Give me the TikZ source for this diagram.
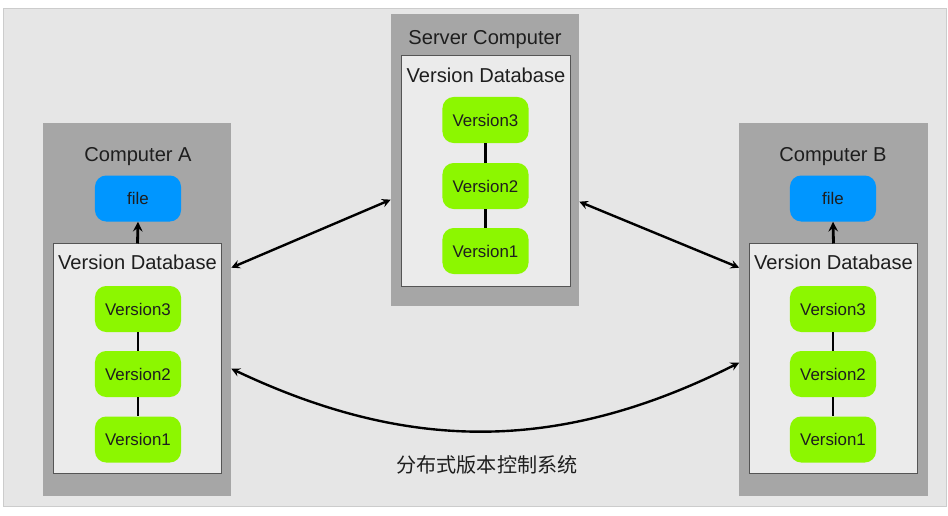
\documentclass[tikz,border=0pt]{standalone}
\usepackage{fontspec}
\setmainfont{Liberation Sans}
\newfontfamily\cjk{Noto Sans CJK SC}
\usetikzlibrary{calc}

\definecolor{panel}{HTML}{E6E6E6}
\definecolor{machinegray}{HTML}{A6A6A6}
\definecolor{dbfill}{HTML}{EBEBEB}
\definecolor{dbline}{HTML}{555555}
\definecolor{versiongreen}{HTML}{8CF700}
\definecolor{fileblue}{HTML}{0096FF}
\definecolor{ink}{HTML}{1E1E1E}

\tikzset{
    machine/.style = {
        rectangle,
        fill=machinegray,
        inner sep=0pt,
        minimum width=4.7cm
    },
    database/.style = {
        rectangle,
        draw=dbline,
        fill=dbfill,
        line width=0.7pt,
        inner sep=0pt,
        minimum width=4.22cm
    },
    version/.style = {
        rectangle,
        rounded corners=0.28cm,
        fill=versiongreen,
        text=ink,
        inner sep=0pt,
        minimum width=2.15cm,
        minimum height=1.15cm,
        font=\fontsize{12}{14}\selectfont
    },
    workfile/.style = {
        version,
        fill=fileblue
    },
    title/.style = {
        text=ink,
        inner sep=0pt,
        font=\fontsize{14.3}{17}\selectfont
    },
    link/.style = {
        line width=2pt,
        black
    },
    sync/.style = {
        stealth-stealth,
        line width=1.7pt,
        black
    }
}

\begin{document}
\begin{tikzpicture}[x=0.025cm, y=-0.025cm]
    \useasboundingbox (0,0) rectangle (948,515);

    % Background panel
    \fill[white] (0,0) rectangle (948,515);
    \draw[black!20, fill=panel] (3,8) rectangle (946,506);

    % Machines
    \node[machine, minimum height=9.325cm] (compA)  at (137,309.5) {};
    \node[machine, minimum height=7.3cm]   (server) at (485,160)   {};
    \node[machine, minimum height=9.325cm] (compB)  at (833.5,309.5) {};

    \node[title] (titleA)      at (138,157) {Computer A};
    \node[title] (titleServer) at (485,40)  {Server Computer};
    \node[title] (titleB)      at (833,157) {Computer B};

    % Version databases
    \node[database, minimum height=5.725cm] (dbA)      at (137.5,358.5) {};
    \node[database, minimum height=5.75cm, minimum width=4.2cm] (dbServer) at (486,171) {};
    \node[database, minimum height=5.725cm] (dbB)      at (833.5,358.5) {};

    \node[title] (labelA)      at (137.5,262) {Version Database};
    \node[title] (labelServer) at (486,75)    {Version Database};
    \node[title] (labelB)      at (833.5,262) {Version Database};

    % Working files
    \node[workfile] (fileA) at (138,198.5) {file};
    \node[workfile] (fileB) at (833,198.5) {file};

    \draw[-stealth, line width=2pt] (dbA.north) -- (fileA.south);
    \draw[-stealth, line width=2pt] (dbB.north) -- (fileB.south);

    % Versions
    \node[version] (vA3) at (138,309)   {Version3};
    \node[version] (vA2) at (138,374)   {Version2};
    \node[version] (vA1) at (138,439.5) {Version1};

    \node[version] (vS3) at (485.5,120) {Version3};
    \node[version] (vS2) at (485.5,186) {Version2};
    \node[version] (vS1) at (485.5,251) {Version1};

    \node[version] (vB3) at (833,309)   {Version3};
    \node[version] (vB2) at (833,374)   {Version2};
    \node[version] (vB1) at (833,439.5) {Version1};

    \draw[link] (vA3) -- (vA2) (vA2) -- (vA1);
    \draw[link] (vS3) -- (vS2) (vS2) -- (vS1);
    \draw[link] (vB3) -- (vB2) (vB2) -- (vB1);

    % Synchronisation
    \draw[sync] ($(compA.north east)+(0,145)$) -- ($(server.north west)+(0,186)$);
    \draw[sync] ($(server.north east)+(0,188)$) -- ($(compB.north west)+(0,145)$);
    \draw[sync] ($(compA.north east)+(0,246)$) to[bend right=26] ($(compB.north west)+(0,240)$);

    % Caption
    \node[title] (caption) at (487,465) {\cjk 分布式版本控制系统};
\end{tikzpicture}
\end{document}
